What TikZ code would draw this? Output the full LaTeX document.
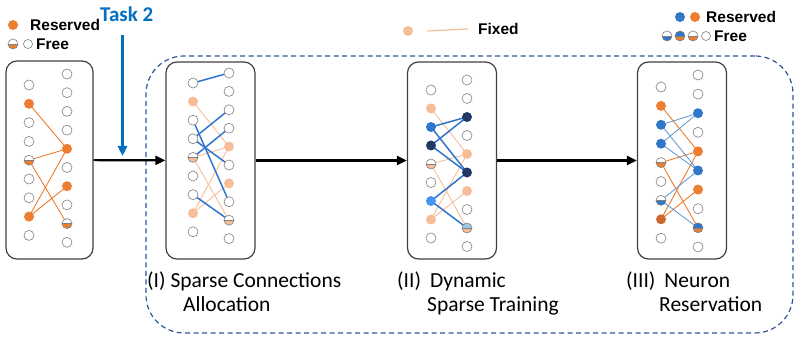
\documentclass[tikz,border=0pt]{standalone}
\usepackage{fontspec}
\setmainfont{Carlito}
\newfontfamily\legfont{Liberation Sans}
\usetikzlibrary{arrows.meta,backgrounds}
\definecolor{orng}{RGB}{237,125,49}
\definecolor{dorng}{RGB}{205,105,45}
\definecolor{lorng}{RGB}{246,190,152}
\definecolor{blu}{RGB}{47,117,205}
\definecolor{navy}{RGB}{31,56,100}
\definecolor{lblu}{RGB}{70,150,240}
\definecolor{pblu}{RGB}{50,118,200}
\definecolor{eblu}{RGB}{91,150,210}
\definecolor{hblu}{RGB}{160,200,235}
\definecolor{tskblu}{RGB}{0,112,192}
\definecolor{dashblu}{RGB}{47,85,151}
\definecolor{ringgray}{RGB}{128,128,128}

\begin{document}
\begin{tikzpicture}[x=1pt, y=-1pt,
  free/.style={circle, draw=ringgray, line width=0.6pt, fill=white,
               minimum size=10pt, inner sep=0pt},
  fullc/.style={free, draw=none, fill=#1},
  ores/.style={fullc=orng},
  dres/.style={fullc=dorng},
  lres/.style={fullc=lorng},
  bres/.style={fullc=blu},
  nres/.style={fullc=navy},
  lbres/.style={fullc=lblu},
  pres/.style={fullc=pblu},
  half/.style 2 args={free, path picture={
      \fill[#1] (path picture bounding box.north west) rectangle (path picture bounding box.east);
      \fill[#2] (path picture bounding box.west) rectangle (path picture bounding box.south east);
      \draw[ringgray, line width=0.5pt] (path picture bounding box.west) -- (path picture bounding box.east);}},
  hfo/.style={half={white}{orng}},
  hfl/.style={half={white}{lorng}},
  hfb/.style={half={white}{pblu}},
  hbo/.style={half={pblu}{orng}},
  hlbl/.style={half={hblu}{lorng}},
  panel/.style={draw=black!75, line width=1.2pt, rounded corners=11pt,
                minimum width=89pt, minimum height=197pt},
  phase/.style={draw=dashblu, line width=1.2pt, dash pattern=on 5pt off 3.5pt,
                rounded corners=38pt, minimum width=647pt, minimum height=277pt},
  oedge/.style={orng, line width=0.9pt},
  fedge/.style={lorng, line width=0.9pt},
  bedge/.style={blu, line width=1.5pt},
  tedge/.style={eblu, line width=0.8pt},
  flow/.style={-{Triangle[length=10pt,width=9pt]}, line width=2.2pt},
  lab/.style={font=\fontsize{21.5}{24}\selectfont, align=left, anchor=north west, inner sep=0pt},
  leg/.style={font=\legfont\fontsize{15.5}{17}\selectfont\bfseries, anchor=west, inner sep=0pt}]
\useasboundingbox (0,0) rectangle (798,339);

% dashed frame round the three phases
\node[phase] (frame) at (469.5,194.5) {};

% panels
\node[panel, minimum width=87pt, minimum height=198pt] (box-a) at (49.5,160) {};
\node[panel] (box-b) at (210.5,160.5) {};
\node[panel] (box-c) at (452,160.5) {};
\node[panel] (box-d) at (682,160.5) {};

% panel a: task 1 result
\foreach \i/\s in {0/free,1/ores,2/free,3/free,4/hfo,5/free,6/free,7/ores,8/free}
  \node[\s] (a-l\i) at (29,{85+18.8*\i}) {};
\foreach \i/\s in {0/free,1/free,2/free,3/free,4/ores,5/free,6/ores,7/free,8/hfo,9/free}
  \node[\s] (a-r\i) at (67,{74+18.7*\i}) {};

% panel b: allocation
\foreach \i/\s in {0/free,1/lres,2/free,3/free,4/hfl,5/free,6/free,7/lres,8/free}
  \node[\s] (b-l\i) at (193,{83+18.6*\i}) {};
\foreach \i/\s in {0/free,1/free,2/free,3/free,4/lres,5/free,6/lres,7/free,8/hfl,9/free}
  \node[\s] (b-r\i) at (229,{73+18.4*\i}) {};

% panel c: dynamic sparse training
\foreach \i/\s in {0/free,1/lres,2/bres,3/nres,4/hfl,5/free,6/lbres,7/lres,8/free}
  \node[\s] (c-l\i) at (431,{90+18.5*\i}) {};
\foreach \i/\s in {0/free,1/free,2/nres,3/free,4/lres,5/nres,6/lres,7/free,8/hlbl,9/free}
  \node[\s] (c-r\i) at (467,{80+18.5*\i}) {};

% panel d: reservation
\foreach \i/\s in {0/free,1/ores,2/pres,3/pres,4/hfo,5/free,6/hfb,7/dres,8/free}
  \node[\s] (d-l\i) at (661,{87+18.9*\i}) {};
\foreach \i/\s in {0/free,1/free,2/pres,3/free,4/ores,5/pres,6/ores,7/free,8/hbo,9/free}
  \node[\s] (d-r\i) at (698,{75+19.1*\i}) {};

\begin{scope}[on background layer]
  \foreach \a/\b in {l1/r4,l4/r4,l4/r8,l7/r4,l7/r6} {
    \draw[oedge] (a-\a.center) -- (a-\b.center);
    \draw[fedge] (b-\a.center) -- (b-\b.center);
    \draw[fedge] (c-\a.center) -- (c-\b.center);
    \draw[oedge] (d-\a.center) -- (d-\b.center);
  }
  \foreach \a/\b in {l0/r0,l2/r7,l3/r2,l3/r5,l4/r3,l6/r8}
    \draw[bedge] (b-\a.center) -- (b-\b.center);
  \foreach \a/\b in {l2/r2,l2/r5,l3/r2,l3/r5,l6/r5,l6/r8} {
    \draw[bedge] (c-\a.center) -- (c-\b.center);
    \draw[tedge] (d-\a.center) -- (d-\b.center);
  }
\end{scope}

% flow between panels
\draw[flow] (box-a) -- (box-b);
\draw[flow] (box-b) -- (box-c);
\draw[flow] (box-c) -- (box-d);

% task 2 enters
\node[font=\fontsize{21}{24}\selectfont\bfseries, text=tskblu, anchor=west, inner sep=0pt]
  (task) at (100,14) {Task 2};
\coordinate (task-top) at (122.5,35);
\coordinate (task-end) at (122.5,156);
\draw[flow, tskblu, line width=2.6pt] (task-top) -- (task-end);

% phase labels
\node[lab] (lab-b) at (147,272) {(I) Sparse Connections\\\hspace*{36pt}Allocation};
\node[lab] (lab-c) at (397,272) {(II)\hspace{9pt}Dynamic\\\hspace*{30pt}Sparse Training};
\node[lab] (lab-d) at (626,272) {(III)\hspace{9pt}Neuron\\\hspace*{33pt}Reservation};

% legend, top left
\node[ores] (lg-res) at (13,25) {};
\node[leg] (lg-rest) at (30,25) {Reserved};
\node[hfo] (lg-half) at (13,44) {};
\node[free, minimum size=9pt] (lg-free) at (28,44) {};
\node[leg] (lg-freet) at (36,44) {Free};

% legend, fixed
\node[lres] (fx-dot) at (408,31) {};
\node[leg] (fx-t) at (478,29) {Fixed};
\draw[fedge, line width=1.2pt] ([xshift=14pt]fx-dot.east) -- ([xshift=-10pt]fx-t.west);

% legend, top right
\node[pres] (rl-b) at (680,17) {};
\node[ores] (rl-o) at (695,17) {};
\node[leg] (rl-rest) at (706,17) {Reserved};
\node[hfb] (rl-h1) at (667,36) {};
\node[hbo] (rl-h2) at (680,36) {};
\node[hfo] (rl-h3) at (693,36) {};
\node[free, minimum size=9pt] (rl-f) at (706,36) {};
\node[leg] (rl-freet) at (714,36) {Free};
\end{tikzpicture}
\end{document}
